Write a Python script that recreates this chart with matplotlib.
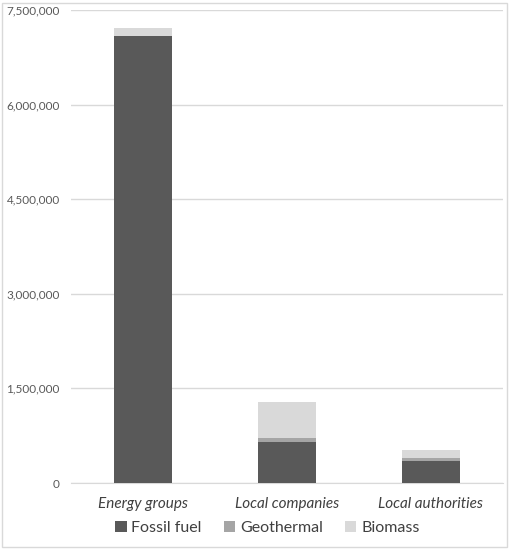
import numpy as np
import matplotlib.pyplot as plt
from matplotlib.patches import Rectangle
from matplotlib.ticker import FuncFormatter

plt.rcParams['font.family'] = ['Lato', 'DejaVu Sans']

categories = ["Energy groups", "Local companies", "Local authorities"]
fossil = [7080000, 650000, 350000]
geothermal = [0, 60000, 45000]
biomass = [130000, 570000, 125000]
series_names = ["Fossil fuel", "Geothermal", "Biomass"]
colors = ["#595959", "#a5a5a5", "#d9d9d9"]

fig = plt.figure(figsize=(5.11, 5.5), dpi=100)
ax = fig.add_axes([0.139, 0.1218, 0.845, 0.86])

x = np.arange(len(categories))
w = 0.4
bottom = np.zeros(len(categories))
for vals, name, c in zip([fossil, geothermal, biomass], series_names, colors):
    ax.bar(x, vals, w, bottom=bottom, color=c, label=name, zorder=3)
    bottom += np.array(vals)

ax.set_xlim(-0.5, 2.5)
ax.set_ylim(0, 7500000)
ax.set_yticks(np.arange(0, 7500001, 1500000))
ax.yaxis.set_major_formatter(FuncFormatter(lambda v, p: f"{int(v):,}"))
ax.grid(axis='y', color='#d9d9d9', linewidth=1, zorder=0)
for s in ax.spines.values():
    s.set_visible(False)
ax.spines['bottom'].set_visible(True)
ax.spines['bottom'].set_color('#d9d9d9')
ax.tick_params(axis='both', length=0, colors='#595959')
ax.tick_params(axis='y', pad=8, labelsize=8.5)
ax.set_xticks(x)
ax.set_xticklabels(categories, style='italic', fontsize=11, color='#404040')
ax.tick_params(axis='x', pad=10)

ax.legend(loc='upper center', bbox_to_anchor=(0.455, -0.05), ncol=3, frameon=False,
          fontsize=11.5, handlelength=0.7, handleheight=0.7, handletextpad=0.3,
          columnspacing=1.4, labelcolor='#404040')

fig.patches.append(Rectangle((0.003, 0.005), 0.99, 0.99, transform=fig.transFigure,
                             fill=False, edgecolor='#d9d9d9', linewidth=1))

fig.savefig("out.png", dpi=100)
